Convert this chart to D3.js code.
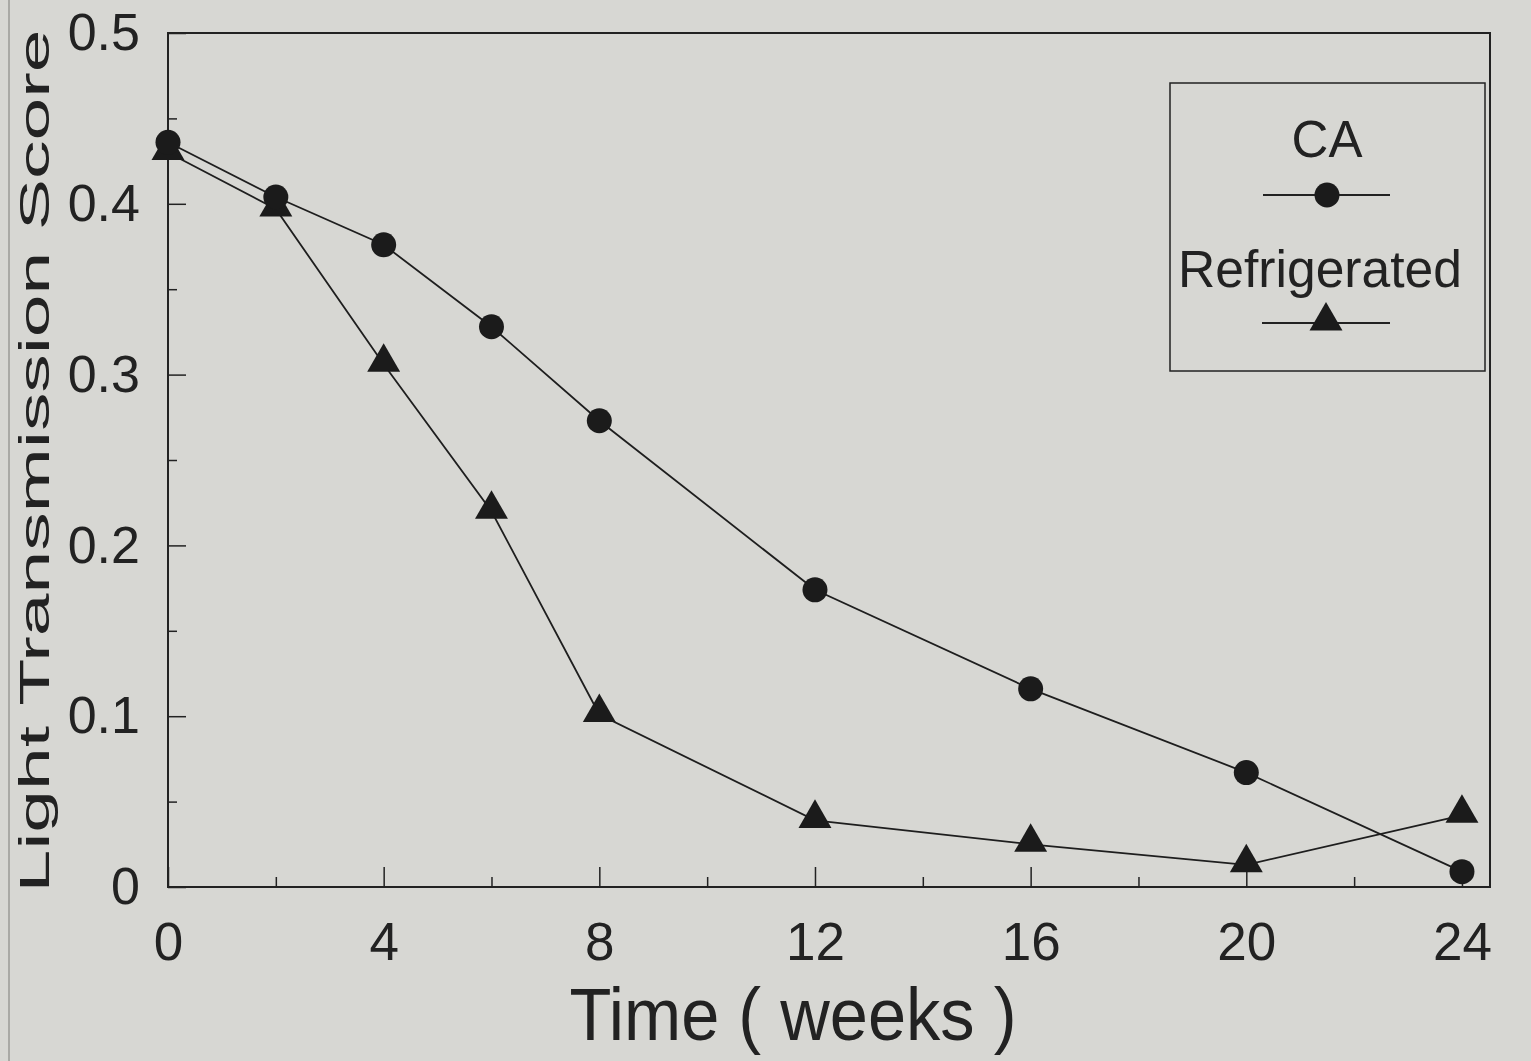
<!DOCTYPE html>
<html>
<head>
<meta charset="utf-8">
<script src="https://cdn.jsdelivr.net/npm/d3@7"></script>
<style>
  body { margin: 0; background: #d7d7d3; }
  svg { display: block; font-family: "Liberation Sans", Arial, sans-serif; }
</style>
</head>
<body>
<div class="chart"></div>
<script>
var width = 1531;
var height = 1061;

// data
var weeks = [0, 2, 4, 6, 8, 12, 16, 20, 24];
var caValues = [0.436, 0.404, 0.376, 0.328, 0.273, 0.174, 0.116, 0.067, 0.009];
var refrigValues = [0.430, 0.397, 0.306, 0.220, 0.101, 0.039, 0.025, 0.013, 0.042];
var xTicks = [0, 4, 8, 12, 16, 20, 24];
var yTicks = [0, 0.1, 0.2, 0.3, 0.4, 0.5];
var legendLabels = ["CA", "Refrigerated"];

var plotL = 168, plotR = 1490, plotT = 33, plotB = 887;

var x = d3.scaleLinear().domain([0, 24.52]).range([plotL, plotR]);
var y = d3.scaleLinear().domain([0, 0.5]).range([plotB, plotT]);

var svg = d3.select(".chart").append("svg")
    .attr("width", width)
    .attr("height", height);

svg.append("rect")
    .attr("width", width).attr("height", height)
    .attr("fill", "#d7d7d3");

// page edge on the left
svg.append("line")
    .attr("x1", 9).attr("x2", 9).attr("y1", 0).attr("y2", height)
    .attr("stroke", "#9a9a96").attr("stroke-width", 1.5);

// frame
svg.append("rect")
    .attr("x", plotL).attr("y", plotT)
    .attr("width", plotR - plotL).attr("height", plotB - plotT)
    .attr("fill", "none").attr("stroke", "#222").attr("stroke-width", 2);

// x axis, ticks pointing inward
var xAxis = svg.append("g")
    .attr("transform", "translate(0," + plotB + ")")
    .call(d3.axisBottom(x).tickValues(d3.range(2, 24.1, 4)).tickSize(-10).tickFormat(""));
xAxis.append("g")
    .call(d3.axisBottom(x).tickValues(xTicks).tickSize(-20).tickPadding(35).tickFormat(d3.format("d")));
xAxis.selectAll(".domain").remove();
xAxis.selectAll("line").attr("stroke", "#222").attr("stroke-width", 1.5);
xAxis.selectAll("text")
    .attr("font-size", 53).attr("fill", "#222")
    .attr("font-family", "Liberation Sans, Arial, sans-serif");

var yAxis = svg.append("g")
    .attr("transform", "translate(" + plotL + ",0)")
    .call(d3.axisLeft(y).tickValues(d3.range(0.05, 0.5, 0.1)).tickSize(-9).tickFormat(""));
yAxis.append("g")
    .call(d3.axisLeft(y).tickValues(yTicks).tickSize(-18).tickPadding(28)
        .tickFormat(function(d) { return d === 0 ? "0" : d3.format(".1f")(d); }));
yAxis.selectAll(".domain").remove();
yAxis.selectAll("line").attr("stroke", "#222").attr("stroke-width", 1.5);
yAxis.selectAll("text")
    .attr("font-size", 52).attr("fill", "#222")
    .attr("font-family", "Liberation Sans, Arial, sans-serif");

// axis titles
svg.append("text")
    .attr("x", 793).attr("y", 1040)
    .attr("text-anchor", "middle")
    .attr("font-size", 74).attr("fill", "#222")
    .attr("textLength", 447).attr("lengthAdjust", "spacingAndGlyphs")
    .text("Time ( weeks )");

svg.append("text")
    .attr("transform", "translate(49,461) rotate(-90)")
    .attr("text-anchor", "middle")
    .attr("font-size", 43).attr("fill", "#222")
    .attr("textLength", 863).attr("lengthAdjust", "spacingAndGlyphs")
    .text("Light Transmission Score");

var line = d3.line()
    .x(function(d) { return x(d[0]); })
    .y(function(d) { return y(d[1]); });

var caPts = weeks.map(function(w, i) { return [w, caValues[i]]; });
var refPts = weeks.map(function(w, i) { return [w, refrigValues[i]]; });

var tri = d3.symbol().type(d3.symbolTriangle).size(470);

svg.append("path").datum(caPts).attr("d", line)
    .attr("fill", "none").attr("stroke", "#1e1e1e").attr("stroke-width", 1.8);
svg.append("path").datum(refPts).attr("d", line)
    .attr("fill", "none").attr("stroke", "#1e1e1e").attr("stroke-width", 1.8);

svg.selectAll(".tri").data(refPts).enter().append("path")
    .attr("class", "tri")
    .attr("d", tri)
    .attr("transform", function(d) { return "translate(" + x(d[0]) + "," + (y(d[1]) - 2) + ")"; })
    .attr("fill", "#1b1b1b");

svg.selectAll(".dot").data(caPts).enter().append("circle")
    .attr("class", "dot")
    .attr("cx", function(d) { return x(d[0]); })
    .attr("cy", function(d) { return y(d[1]); })
    .attr("r", 12.5)
    .attr("fill", "#1b1b1b");

// legend
var lg = svg.append("g");
lg.append("rect")
    .attr("x", 1170).attr("y", 83).attr("width", 315).attr("height", 288)
    .attr("fill", "none").attr("stroke", "#222").attr("stroke-width", 1.5);
lg.append("text").attr("x", 1327).attr("y", 157).attr("text-anchor", "middle")
    .attr("font-size", 51).attr("fill", "#222").text(legendLabels[0]);
lg.append("line").attr("x1", 1263).attr("x2", 1390).attr("y1", 195).attr("y2", 195)
    .attr("stroke", "#222").attr("stroke-width", 1.8);
lg.append("circle").attr("cx", 1327).attr("cy", 195).attr("r", 12.5).attr("fill", "#1b1b1b");
lg.append("text").attr("x", 1320).attr("y", 287).attr("text-anchor", "middle")
    .attr("font-size", 51).attr("fill", "#222")
    .attr("textLength", 284).attr("lengthAdjust", "spacingAndGlyphs")
    .text(legendLabels[1]);
lg.append("line").attr("x1", 1262).attr("x2", 1390).attr("y1", 323).attr("y2", 323)
    .attr("stroke", "#222").attr("stroke-width", 1.8);
lg.append("path").attr("d", tri).attr("transform", "translate(1326,321)").attr("fill", "#1b1b1b");
</script>
</body>
</html>
